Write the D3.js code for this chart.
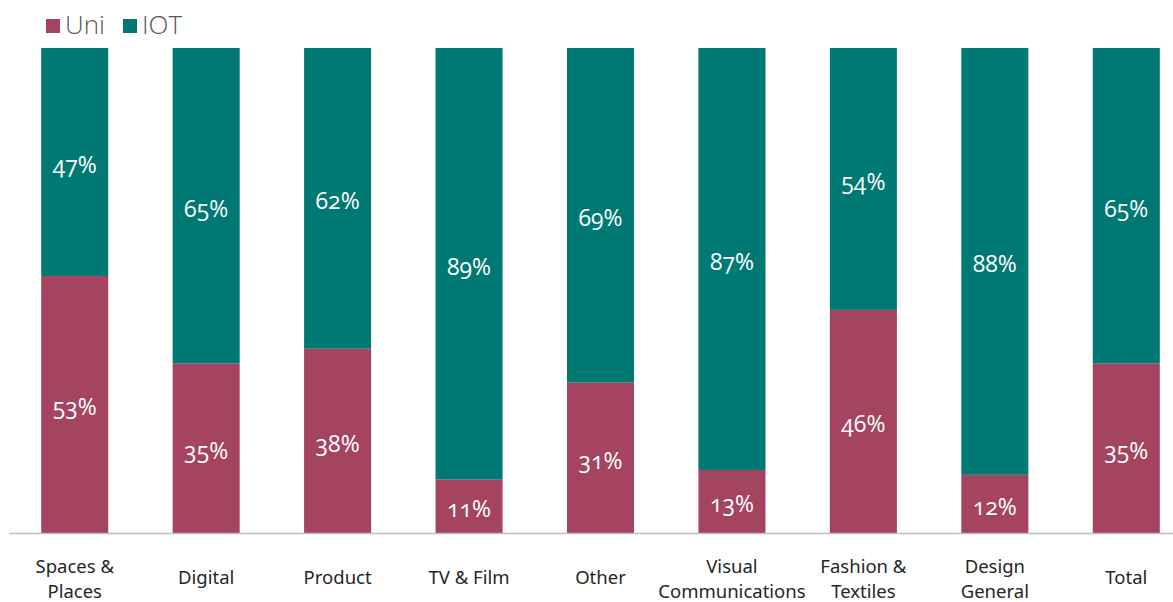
<!DOCTYPE html>
<html>
<head>
<meta charset="utf-8">
<script src="https://cdn.jsdelivr.net/npm/d3@7"></script>
<style>
  body { margin: 0; background: #fff; }
  svg { display: block; }
  .val { font-family: "Open Sans", sans-serif; font-feature-settings: "onum"; font-variant-numeric: oldstyle-nums; }
</style>
</head>
<body>
<svg id="chart" width="1173" height="602"></svg>
<script>
const categories = ['Spaces & Places', 'Digital', 'Product', 'TV & Film', 'Other',
  'Visual Communications', 'Fashion & Textiles', 'Design General', 'Total'];
// label lines for the x axis
const catLines = [['Spaces &', 'Places'], ['Digital'], ['Product'], ['TV & Film'], ['Other'],
  ['Visual', 'Communications'], ['Fashion &', 'Textiles'], ['Design', 'General'], ['Total']];
const uni = [53, 35, 38, 11, 31, 13, 46, 12, 35];
const iot = [47, 65, 62, 89, 69, 87, 54, 88, 65];
const seriesNames = ['Uni', 'IOT'];
const colors = ['#A44461', '#007873'];

const svg = d3.select('#chart');
const plotTop = 48, plotBottom = 533;

const x = d3.scaleBand().domain(categories).range([9, 1192]).paddingInner(0.49).paddingOuter(0.245);
const y = d3.scaleLinear().domain([0, 100]).range([plotBottom, plotTop]);

const rows = categories.map((c, i) => ({ cat: c, Uni: uni[i], IOT: iot[i] }));
const stack = d3.stack().keys(seriesNames)(rows);

const g = svg.append('g');
stack.forEach((s, si) => {
  g.selectAll('.bar' + si)
    .data(s)
    .join('rect')
    .attr('x', d => x(d.data.cat))
    .attr('width', x.bandwidth())
    .attr('y', d => y(d[1]))
    .attr('height', d => y(d[0]) - y(d[1]))
    .attr('fill', colors[si]);

  g.selectAll('.lab' + si)
    .data(s)
    .join('text')
    .attr('class', 'val')
    .attr('x', d => x(d.data.cat) + x.bandwidth() / 2)
    .attr('y', d => (y(d[0]) + y(d[1])) / 2 + 11)
    .attr('text-anchor', 'middle')
    .attr('fill', '#fff')
    .attr('font-size', 23)
    .text(d => (d[1] - d[0]) + '%');
});

// axis baseline
svg.append('line')
  .attr('x1', 9).attr('x2', 1173)
  .attr('y1', plotBottom + 0.5).attr('y2', plotBottom + 0.5)
  .attr('stroke', '#BFBFBF').attr('stroke-width', 1.5);

// category labels
const xl = svg.append('g');
categories.forEach((c, i) => {
  const lines = catLines[i];
  const cx = x(c) + x.bandwidth() / 2;
  const y0 = lines.length === 1 ? 584 : 573;
  const t = xl.append('text')
    .attr('x', cx)
    .attr('text-anchor', 'middle')
    .attr('font-family', '"Noto Sans", sans-serif')
    .attr('font-size', 18.5)
    .attr('fill', '#262626');
  lines.forEach((ln, j) => {
    t.append('tspan').attr('x', cx).attr('y', y0 + j * 25).text(ln);
  });
});

// legend
const legendX = [46, 123];
seriesNames.forEach((n, i) => {
  svg.append('rect')
    .attr('x', legendX[i]).attr('y', 19)
    .attr('width', 14).attr('height', 14)
    .attr('fill', colors[i]);
  svg.append('text')
    .attr('x', legendX[i] + 19).attr('y', 34)
    .attr('font-family', '"Open Sans", sans-serif')
    .attr('font-weight', 300)
    .attr('font-size', 26)
    .attr('fill', '#595959')
    .text(n);
});
</script>
</body>
</html>
